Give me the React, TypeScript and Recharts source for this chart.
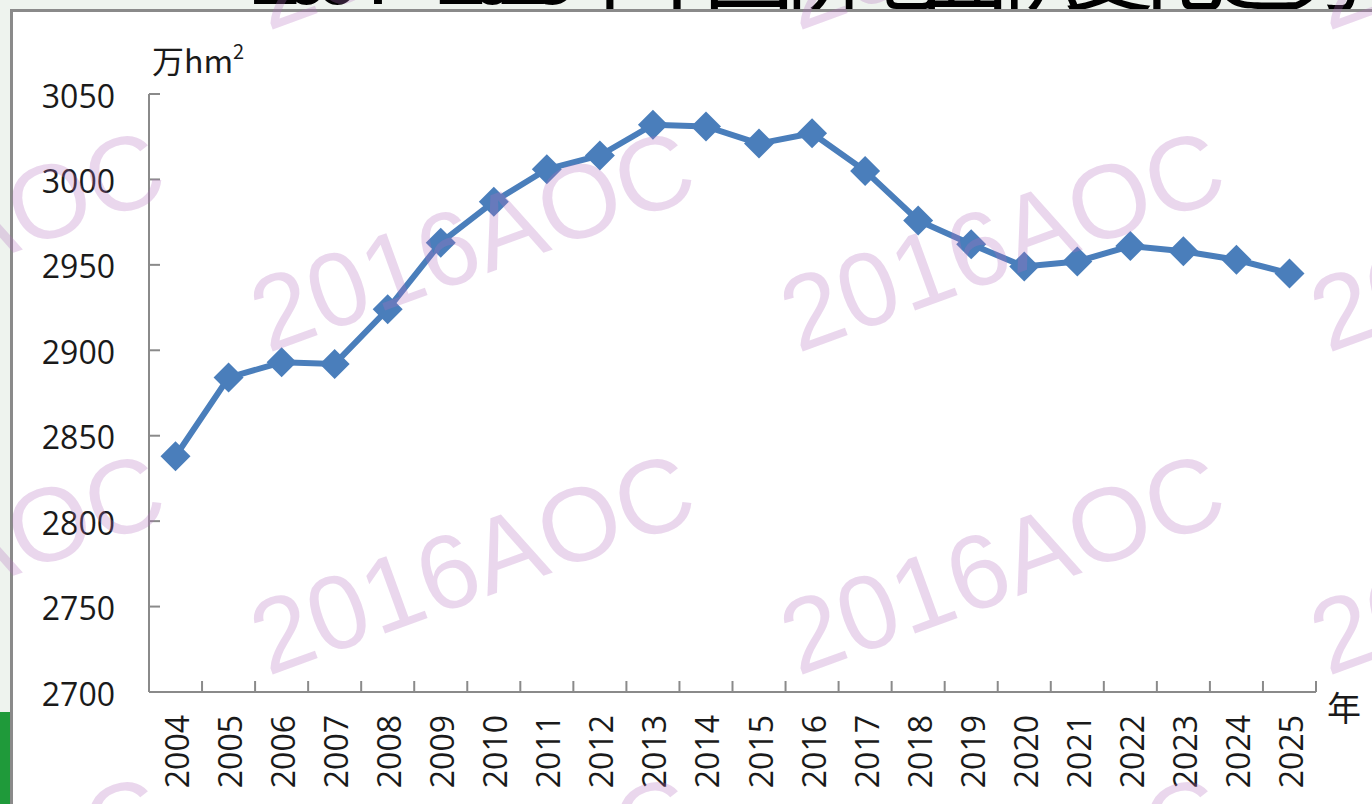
import { LineChart, Line, XAxis, YAxis } from 'recharts'

const years = ['2004', '2005', '2006', '2007', '2008', '2009', '2010', '2011', '2012', '2013', '2014',
  '2015', '2016', '2017', '2018', '2019', '2020', '2021', '2022', '2023', '2024', '2025']
const area = [2838, 2884, 2893, 2892, 2924, 2963, 2987, 3006, 3014, 3032, 3031,
  3021, 3027, 3005, 2976, 2962, 2949, 2952, 2961, 2958, 2953, 2945]
const yTicks = [2700, 2750, 2800, 2850, 2900, 2950, 3000, 3050]

const data = years.map((year, i) => ({ year, area: area[i] }))

// layout
const W = 1372
const H = 804
const PLOT_LEFT = 149
const PLOT_RIGHT = 1316
const PLOT_TOP = 94
const PLOT_BOTTOM = 692
const STEP = (PLOT_RIGHT - PLOT_LEFT) / years.length
const AXIS = '#8a8a8a'
const BLUE = '#4a7ebb'
const FONT = '"Open Sans", "Noto Sans", sans-serif'

const Diamond = (props: any) => {
  const { cx, cy } = props
  if (cx == null || cy == null) return null
  const r = 15
  return <polygon points={`${cx},${cy - r} ${cx + r},${cy} ${cx},${cy + r} ${cx - r},${cy}`} fill={BLUE} />
}

const YTick = (props: any) => {
  const { x, y, payload } = props
  return (
    <g>
      <line x1={x} y1={y} x2={x + 11} y2={y} stroke={AXIS} strokeWidth={2} />
      <text x={x - 34} y={y + 1} textAnchor="end" dominantBaseline="central"
        fontSize={32} fontFamily={FONT} fill="#1a1a1a">{payload.value}</text>
    </g>
  )
}

const XTick = (props: any) => {
  const { x, y, payload } = props
  const bx = x + STEP / 2
  return (
    <g>
      <line x1={bx} y1={y} x2={bx} y2={y - 11} stroke={AXIS} strokeWidth={2} />
      <text transform={`translate(${x + 1},${y + 23}) rotate(-90)`} textAnchor="end" dominantBaseline="central"
        fontSize={32} fontFamily={FONT} fill="#1a1a1a">{payload.value}</text>
    </g>
  )
}

const markCols = [-58, 472, 1002, 1532]
const markRows = [-82, 240, 563, 886]

export default function App() {
  return (
    <div style={{ position: 'absolute', left: 0, top: 0, width: W, height: H, background: '#eef3ee', overflow: 'hidden' }}>
      {/* title strip, cut off by the frame */}
      <svg width={W} height={12} style={{ position: 'absolute', left: 0, top: 0 }}>
        <text x={250} y={4} fontSize={92} fontFamily='"Noto Sans CJK SC", sans-serif' fill="#000" textLength={1120}>
          2004—2025年中国耕地面积变化趋势
        </text>
      </svg>
      <div style={{ position: 'absolute', left: 0, top: 712, width: 10, height: H - 712, background: '#1f9a3a' }} />
      <div style={{
        position: 'absolute', left: 10, top: 9, width: W, height: H,
        background: '#fff', borderLeft: `3px solid ${AXIS}`, borderTop: `3px solid ${AXIS}`
      }} />
      <div style={{ position: 'absolute', left: 0, top: 0 }}>
        <LineChart width={W} height={H} data={data}
          margin={{ top: PLOT_TOP, right: W - PLOT_RIGHT, bottom: 0, left: 0 }}>
          <XAxis dataKey="year" interval={0} height={H - PLOT_BOTTOM} tickSize={0} tickMargin={0}
            padding={{ left: STEP / 2, right: STEP / 2 }} tick={<XTick />}
            axisLine={{ stroke: AXIS, strokeWidth: 2 }} tickLine={false} />
          <YAxis type="number" domain={[2700, 3050]} ticks={yTicks} width={PLOT_LEFT} interval={0}
            tickSize={0} tickMargin={0} tick={<YTick />}
            axisLine={{ stroke: AXIS, strokeWidth: 2 }} tickLine={false} />
          <Line dataKey="area" stroke={BLUE} strokeWidth={6} dot={<Diamond />} activeDot={false}
            isAnimationActive={false} />
        </LineChart>
      </div>
      <svg width={W} height={H} style={{ position: 'absolute', left: 0, top: 0, pointerEvents: 'none' }}>
        <text x={152} y={73} fontSize={32} fontFamily='"Noto Sans CJK SC", "Open Sans", sans-serif' fill="#1a1a1a">
          万hm<tspan fontSize={20} dy={-14}>2</tspan>
        </text>
        <text x={1344} y={706} textAnchor="middle" dominantBaseline="central" fontSize={34}
          fontFamily='"Noto Sans CJK SC", sans-serif' fill="#1a1a1a">年</text>
        {markRows.map(cy => markCols.map(cx => (
          <text key={`${cx}-${cy}`} x={cx} y={cy} textAnchor="middle" dominantBaseline="central"
            transform={`rotate(-20 ${cx} ${cy})`} fontSize={105} fontFamily='"Liberation Sans", Arial, sans-serif'
            fill="rgb(180,110,190)" fillOpacity={0.28}>2016AOC</text>
        )))}
      </svg>
    </div>
  )
}
